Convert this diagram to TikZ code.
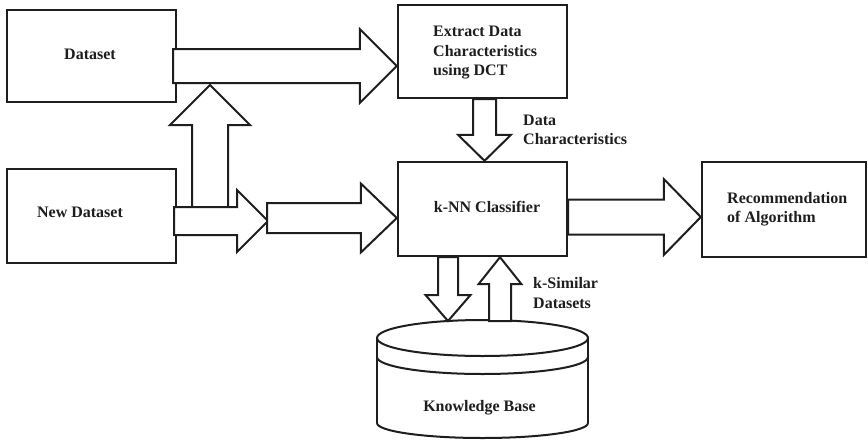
\documentclass[tikz,border=0pt]{standalone}
\usepackage{fontspec}
\setmainfont{Liberation Serif}
\usetikzlibrary{calc}
\definecolor{ink}{HTML}{1E1E1E}

% horizontal block arrow: #1 start (shaft centre), #2 tip, #3 shaft half width,
% #4 head half width, #5 head length
\newcommand\hblock[5]{%
  \path[barrow] let \p1=(#1), \p2=(#2) in
    (\x1,\y1+#3) -- (\x2-#5,\y1+#3) -- (\x2-#5,\y1+#4) -- (\x2,\y1)
    -- (\x2-#5,\y1-#4) -- (\x2-#5,\y1-#3) -- (\x1,\y1-#3) -- cycle;}
% vertical block arrow: #5 is the signed head length (positive points down)
\newcommand\vblock[5]{%
  \path[barrow] let \p1=(#1), \p2=(#2) in
    (\x1-#3,\y1) -- (\x1-#3,\y2+#5) -- (\x1-#4,\y2+#5) -- (\x1,\y2)
    -- (\x1+#4,\y2+#5) -- (\x1+#3,\y2+#5) -- (\x1+#3,\y1) -- cycle;}

\begin{document}
\begin{tikzpicture}[x=1pt,y=-1pt,
  box/.style={draw=ink, line width=2.4pt, fill=white, inner sep=0pt},
  barrow/.style={draw=ink, fill=white, line width=2pt, line join=miter},
  cyl/.style={draw=ink, line width=2pt},
  lbl/.style={font=\fontsize{16}{19.5}\selectfont\bfseries, text=ink,
              inner sep=0pt, align=left}]

\useasboundingbox[fill=white] (0,0) rectangle (868,440);

% boxes
\node[box, minimum width=169pt, minimum height=92pt] (dataset) at (91.5,56) {};
\node[box, minimum width=169pt, minimum height=94pt] (newds)   at (91.5,216) {};
\node[box, minimum width=169pt, minimum height=93pt] (extract) at (482.5,51.5) {};
\node[box, minimum width=169pt, minimum height=94pt] (knn)     at (482.5,209) {};
\node[box, minimum width=164pt, minimum height=95pt] (rec)     at (784,209.5) {};

% knowledge base cylinder
\draw[cyl] (482.5,338) ellipse [x radius=105.5pt, y radius=18pt];
\draw[cyl] (377,338) -- (377,423);
\draw[cyl] (588,338) -- (588,423);
\draw[cyl] (377,357) arc [start angle=180, end angle=360, x radius=105.5pt, y radius=17pt];
\draw[cyl] (377,423) arc [start angle=180, end angle=360, x radius=105.5pt, y radius=15pt];
\coordinate (kbtop) at (482.5,320);

% arrow end points
\coordinate (a1s) at ($(dataset.east)+(-4,10)$);
\coordinate (a1t) at (extract.west |- a1s);
\coordinate (upfoot) at (210,208);
\coordinate (uptip)  at (210,85);
\coordinate (a2s) at ($(newds.east)+(-3,5)$);
\coordinate (jct) at (268,221);
\coordinate (a3s) at ($(jct)+(-1,-3)$);
\coordinate (a3t) at (knn.west |- a3s);
\coordinate (a4s) at ($(extract.south)+(2,0)$);
\coordinate (a4t) at ($(knn.north)+(2,0)$);
\coordinate (a5s) at ($(knn.east)+(0,8)$);
\coordinate (a5t) at (rec.west |- a5s);
\coordinate (a6s) at ($(knn.south)+(-34.5,0)$);
\coordinate (a6t) at ($(kbtop)+(-34.5,1)$);
\coordinate (a7s) at ($(kbtop)+(17.5,1)$);
\coordinate (a7t) at ($(knn.south)+(17.5,0)$);

% connectors
\hblock{a1s}{a1t}{17pt}{37pt}{37pt}
\vblock{upfoot}{uptip}{18pt}{40pt}{-40pt}
\hblock{a2s}{jct}{14pt}{31pt}{31pt}
\hblock{a3s}{a3t}{15pt}{34.5pt}{36pt}
\vblock{a4s}{a4t}{11.5pt}{26.5pt}{26pt}
\hblock{a5s}{a5t}{17.5pt}{38pt}{37pt}
\vblock{a6s}{a6t}{10pt}{22.5pt}{26pt}
\vblock{a7s}{a7t}{11pt}{21.5pt}{-27pt}

% texts
\node[lbl] (tdataset) at (90,54) {Dataset};
\node[lbl] (tnewds) at (80,212) {New Dataset};
\node[lbl, anchor=west] (textract) at (433,53) {Extract Data\\Characteristics\\using DCT};
\node[lbl] (tknn) at (487,207) {k-NN Classifier};
\node[lbl, anchor=west] (trec) at (727,209) {Recommendation\\of Algorithm};
\node[lbl, anchor=west] (tdc) at (523,130) {Data\\Characteristics};
\node[lbl, anchor=west] (tks) at (533,293) {k-Similar\\Datasets};
\node[lbl] (tkb) at (479.5,408) {Knowledge Base};
\end{tikzpicture}
\end{document}
